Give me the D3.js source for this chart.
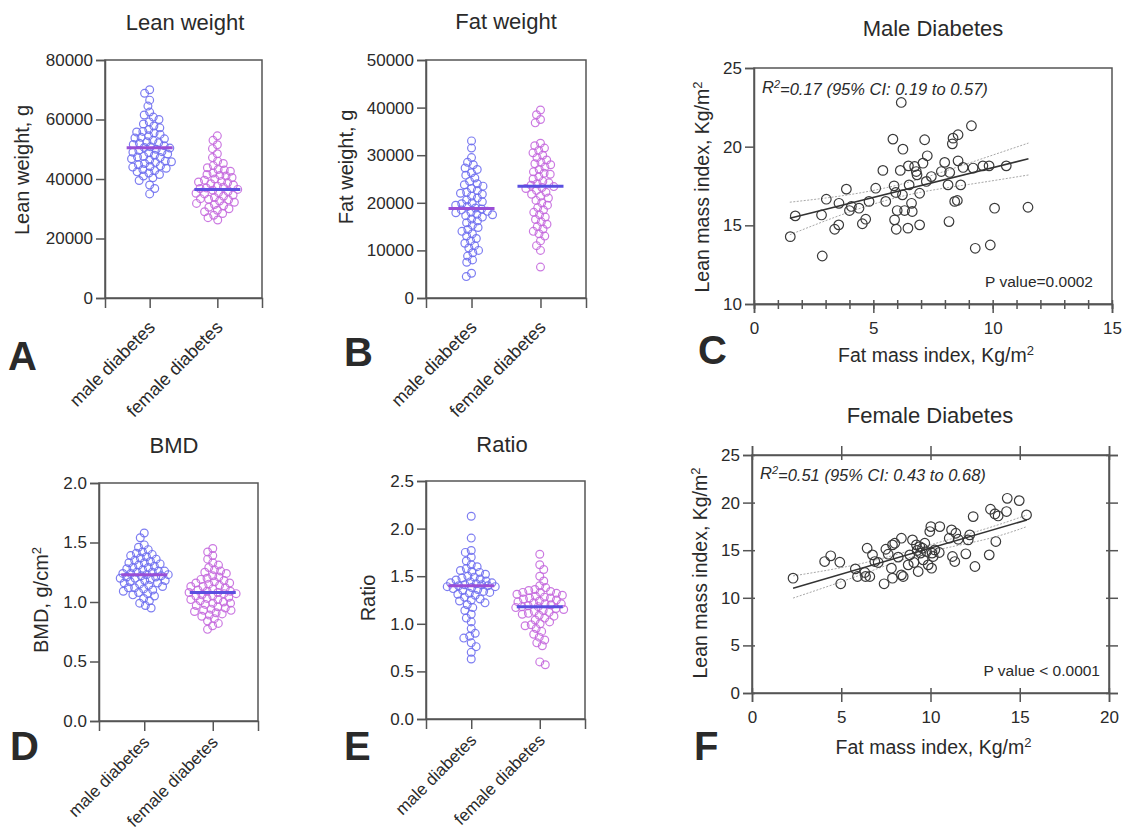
<!DOCTYPE html>
<html><head><meta charset="utf-8">
<script src="https://cdn.jsdelivr.net/npm/d3@7"></script>
<style>
body{margin:0;background:#fff}
text{font-family:"Liberation Sans", Arial, Helvetica, sans-serif;fill:#2a2a2a}
</style>
</head><body>
<svg id="chart" width="1124" height="835"></svg>
<script>
// ---------------- DATA ----------------
const categories = ["male diabetes", "female diabetes"];

const leanMale = [70000, 68800, 66500, 64500, 62500, 61500, 60800, 60000, 59200, 58500, 57800, 57200, 56600, 56000, 55500, 55000, 54500, 54000, 53500, 53000, 52500, 52000, 51600, 51200, 50800, 50400, 50000, 49600, 49200, 48800, 48400, 48000, 47600, 47200, 46800, 46400, 46000, 45600, 45200, 44800, 44400, 44000, 43600, 43200, 42800, 42400, 42000, 41500, 41000, 40400, 39500, 38000, 36800, 35000, 53800, 52200, 50600, 49000, 47400, 45800, 55800, 44200];
const leanFemale = [54500, 53000, 51500, 50200, 48500, 47200, 46000, 45200, 44500, 43800, 43200, 42600, 42000, 41500, 41000, 40500, 40000, 39600, 39200, 38800, 38400, 38000, 37600, 37200, 36800, 36500, 36200, 35800, 35400, 35000, 34600, 34200, 33800, 33400, 33000, 32600, 32200, 31800, 31400, 31000, 30500, 30000, 29500, 29000, 28400, 27800, 27000, 26200, 39000, 37000, 35200, 33200, 41200, 43000];
const leanMedians = [50500, 36500];
const leanTicks = [0, 20000, 40000, 60000, 80000];

const fatMale = [33000, 31500, 29500, 28500, 28000, 27300, 27000, 26300, 25800, 25200, 24500, 24000, 23500, 23000, 22600, 22200, 21800, 21400, 21000, 20600, 20200, 19800, 19500, 19200, 18900, 18700, 18500, 18200, 17900, 17600, 17300, 17000, 16600, 16200, 15800, 15300, 14800, 14400, 14000, 13500, 13000, 12500, 12000, 11500, 11000, 10500, 10000, 9500, 8800, 8000, 7500, 5200, 4500, 22000, 20000, 18000, 23800, 17500];
const fatFemale = [39500, 38500, 37500, 36800, 32500, 32000, 31500, 31000, 30500, 30000, 29500, 29000, 28500, 28000, 27500, 27000, 26500, 26000, 25500, 25000, 24500, 24000, 23700, 23400, 23200, 23000, 22600, 22200, 21800, 21400, 21000, 20500, 20000, 19500, 19000, 18500, 18000, 17500, 17000, 16500, 16000, 15500, 15000, 14500, 14000, 13500, 13000, 12000, 11000, 10000, 6500, 24200, 26200, 28200];
const fatMedians = [18800, 23500];
const fatTicks = [0, 10000, 20000, 30000, 40000, 50000];

const bmdMale = [1.58, 1.54, 1.48, 1.46, 1.44, 1.42, 1.41, 1.40, 1.39, 1.38, 1.37, 1.36, 1.35, 1.34, 1.33, 1.32, 1.31, 1.30, 1.29, 1.28, 1.27, 1.26, 1.25, 1.25, 1.24, 1.24, 1.23, 1.23, 1.22, 1.22, 1.21, 1.21, 1.20, 1.20, 1.19, 1.18, 1.18, 1.17, 1.16, 1.15, 1.14, 1.13, 1.12, 1.11, 1.10, 1.09, 1.08, 1.07, 1.06, 1.05, 1.03, 1.01, 0.99, 0.97, 0.95, 1.33, 1.29, 1.26, 1.16, 1.12];
const bmdFemale = [1.45, 1.42, 1.39, 1.36, 1.33, 1.31, 1.29, 1.27, 1.25, 1.24, 1.22, 1.20, 1.19, 1.18, 1.17, 1.16, 1.15, 1.14, 1.13, 1.12, 1.11, 1.10, 1.09, 1.09, 1.08, 1.08, 1.07, 1.07, 1.06, 1.05, 1.04, 1.03, 1.02, 1.01, 1.00, 0.99, 0.98, 0.97, 0.96, 0.95, 0.94, 0.93, 0.92, 0.91, 0.90, 0.89, 0.88, 0.86, 0.84, 0.82, 0.80, 0.77, 1.21, 1.13, 1.05, 0.99, 0.93, 1.26, 1.16, 1.02];
const bmdMedians = [1.23, 1.08];
const bmdTicks = [0, 0.5, 1.0, 1.5, 2.0];

const ratioMale = [2.13, 1.90, 1.77, 1.75, 1.70, 1.66, 1.62, 1.60, 1.58, 1.56, 1.54, 1.52, 1.50, 1.48, 1.47, 1.46, 1.45, 1.44, 1.43, 1.42, 1.41, 1.41, 1.40, 1.40, 1.39, 1.39, 1.38, 1.37, 1.36, 1.35, 1.34, 1.33, 1.32, 1.30, 1.28, 1.26, 1.24, 1.22, 1.20, 1.17, 1.14, 1.10, 1.06, 1.02, 0.95, 0.90, 0.87, 0.85, 0.80, 0.76, 0.70, 0.63, 1.55, 1.49, 1.43, 1.31, 1.25];
const ratioFemale = [1.73, 1.62, 1.57, 1.50, 1.45, 1.40, 1.38, 1.36, 1.35, 1.34, 1.33, 1.32, 1.31, 1.30, 1.29, 1.28, 1.27, 1.26, 1.25, 1.24, 1.23, 1.22, 1.21, 1.20, 1.19, 1.18, 1.18, 1.17, 1.16, 1.15, 1.14, 1.13, 1.12, 1.11, 1.10, 1.08, 1.06, 1.04, 1.02, 1.00, 0.98, 0.95, 0.92, 0.89, 0.86, 0.83, 0.80, 0.77, 0.60, 0.57, 1.33, 1.27, 1.21, 1.09, 0.99];
const ratioMedians = [1.40, 1.18];
const ratioTicks = [0, 0.5, 1.0, 1.5, 2.0, 2.5];

// Male diabetes scatter: fat mass index (x) vs lean mass index (y)
const maleFMI = [1.52, 1.73, 2.86, 2.83, 3.03, 3.56, 3.38, 3.55, 3.87, 4.08, 4.0, 4.4, 4.54, 4.68, 4.82, 5.1, 5.4, 5.52, 5.82, 5.87, 5.94, 5.89, 5.96, 6.0, 6.17, 6.24, 6.13, 6.22, 6.31, 6.47, 6.5, 6.45, 6.6, 6.63, 6.73, 6.8, 6.83, 6.94, 6.94, 7.08, 7.15, 7.26, 7.22, 7.43, 7.85, 7.99, 8.13, 8.2, 8.17, 8.31, 8.34, 8.55, 8.55, 8.41, 8.52, 8.66, 8.76, 9.11, 9.18, 9.27, 9.59, 9.85, 9.9, 10.08, 10.57, 11.48];
const maleLMI = [14.28, 15.6, 13.05, 15.66, 16.66, 16.4, 14.75, 15.03, 17.3, 16.2, 15.94, 16.09, 15.1, 15.39, 16.52, 17.36, 18.49, 16.52, 20.48, 17.51, 17.09, 15.35, 14.75, 15.94, 22.81, 19.84, 18.49, 16.94, 15.94, 18.78, 17.57, 14.82, 16.4, 15.88, 18.74, 18.42, 18.21, 17.04, 15.03, 18.95, 20.44, 19.42, 17.79, 18.1, 18.42, 19.0, 17.57, 18.36, 15.24, 20.18, 20.54, 20.76, 19.1, 16.52, 16.58, 17.57, 18.68, 21.33, 18.64, 13.54, 18.78, 18.78, 13.75, 16.09, 18.78, 16.15];
const maleFitX = [1.5, 11.5];
const maleFitY = [15.45, 19.23];
const maleBandX = [1.5, 4.0, 6.5, 9.0, 11.5];
const maleBandUpper = [16.47, 16.95, 17.75, 18.95, 20.23];
const maleBandLower = [14.4, 15.85, 16.95, 17.6, 18.2];

// Female diabetes scatter
const femaleFMI = [2.3, 4.07, 4.41, 4.92, 4.97, 5.79, 5.91, 6.32, 6.45, 6.36, 6.6, 6.75, 6.88, 7.07, 7.4, 7.5, 7.63, 7.81, 7.87, 8.0, 7.87, 8.19, 8.37, 8.37, 8.47, 8.75, 8.84, 8.99, 9.07, 9.21, 9.25, 9.31, 9.4, 9.44, 9.55, 9.59, 9.68, 9.78, 9.87, 9.96, 10.02, 10.06, 10.09, 10.15, 10.24, 10.52, 10.49, 11.18, 11.23, 11.36, 11.42, 11.55, 11.98, 12.11, 12.2, 12.39, 12.49, 13.29, 13.36, 13.61, 13.66, 13.79, 14.26, 14.3, 14.97, 15.38, 11.05];
const femaleLMI = [12.06, 13.81, 14.41, 13.74, 11.47, 13.04, 12.24, 12.66, 15.21, 12.24, 12.24, 14.51, 13.81, 13.71, 11.47, 15.1, 14.58, 13.11, 15.56, 15.73, 12.06, 14.27, 16.26, 12.41, 12.24, 13.46, 14.51, 16.08, 13.71, 15.56, 14.97, 12.76, 15.38, 14.69, 15.21, 13.99, 15.73, 14.86, 13.46, 16.96, 17.48, 13.11, 14.69, 14.34, 15.03, 17.48, 14.76, 17.13, 14.34, 13.81, 16.78, 16.15, 14.62, 16.08, 16.61, 18.53, 13.29, 14.51, 19.3, 18.81, 15.91, 18.6, 19.06, 20.45, 20.21, 18.71, 16.26];
const femaleFitX = [2.3, 15.4];
const femaleFitY = [11.01, 18.18];
const femaleBandX = [2.3, 6.0, 9.5, 13.0, 15.4];
const femaleBandUpper = [12.3, 13.55, 15.3, 17.2, 18.7];
const femaleBandLower = [9.97, 12.35, 14.6, 16.1, 17.48];

// ---------------- DRAWING ----------------
const svg = d3.select("#chart");
const AXIS = "#555";
const maleColor = "#6f6ff0", femaleColor = "#c56ade";
const maleMedColor = "#9a4ed6", femaleMedColor = "#5a4fe0";

// beeswarm layout, limited to a maximum half-width (points may overlap at the limit)
function swarm(values, y, diam, maxHalf) {
  const pts = values.map(v => ({v, y: y(v)})).sort((a, b) => a.y - b.y);
  const placed = [];
  let flip = 1;
  for (const p of pts) {
    const cands = [0];
    for (const q of placed) {
      const dy = Math.abs(q.y - p.y);
      if (dy < diam) { const dx = Math.sqrt(diam * diam - dy * dy); cands.push(q.x + dx, q.x - dx); }
    }
    cands.sort((a, b) => (Math.abs(a) - Math.abs(b)) || (flip * (b - a)));
    let chosen = null;
    for (const c of cands) {
      if (Math.abs(c) > maxHalf) break;
      if (placed.every(q => (q.x - c) ** 2 + (q.y - p.y) ** 2 >= diam * diam - 0.01)) { chosen = c; break; }
    }
    if (chosen === null) {
      let best = -1;
      for (let c = -maxHalf; c <= maxHalf; c += 0.5) {
        let m = Infinity;
        for (const q of placed) m = Math.min(m, (q.x - c) ** 2 + (q.y - p.y) ** 2);
        if (m > best) { best = m; chosen = c; }
      }
    }
    p.x = chosen;
    flip = -flip;
    placed.push(p);
  }
  return placed;
}

function columnPanel(o) {
  const g = svg.append("g");
  const x = d3.scalePoint().domain(categories).range([o.x0, o.x1]).padding(0.66);
  const y = d3.scaleLinear().domain([0, o.ticks[o.ticks.length - 1]]).range([o.y1, o.y0]);
  g.append("rect").attr("x", o.x0).attr("y", o.y0).attr("width", o.x1 - o.x0).attr("height", o.y1 - o.y0)
    .attr("fill", "none").attr("stroke", AXIS).attr("stroke-width", 1.5);
  const ya = g.append("g").attr("transform", `translate(${o.x0},0)`)
    .call(d3.axisLeft(y).tickValues(o.ticks).tickSize(9).tickPadding(3).tickFormat(o.fmt));
  ya.select(".domain").attr("stroke", AXIS).attr("stroke-width", 1.5);
  ya.selectAll(".tick line").attr("stroke", AXIS).attr("stroke-width", 1.5);
  ya.selectAll(".tick text").style("font-size", "17px").attr("fill", "#2a2a2a");
  const xa = g.append("g").attr("transform", `translate(0,${o.y1})`)
    .call(d3.axisBottom(x).tickSize(10).tickFormat(""));
  xa.select(".domain").attr("stroke", AXIS).attr("stroke-width", 1.5);
  xa.selectAll(".tick line").attr("stroke", AXIS).attr("stroke-width", 1.5);
  categories.forEach(c => {
    g.append("text").attr("transform", `translate(${x(c) + 2},${o.y1 + o.catOff}) rotate(-45)`)
      .attr("text-anchor", "end").attr("dy", "0.35em").style("font-size", o.catSize).text(c);
  });
  const groups = [o.male, o.female];
  const colors = [maleColor, femaleColor];
  const medColors = [maleMedColor, femaleMedColor];
  groups.forEach((vals, i) => {
    const pts = swarm(vals, y, 6.2, 24);
    g.append("g").selectAll("circle").data(pts).join("circle")
      .attr("cx", d => x(categories[i]) + d.x).attr("cy", d => d.y).attr("r", 3.9)
      .attr("fill", "none").attr("stroke", colors[i]).attr("stroke-width", 1.2).attr("stroke-opacity", 0.9);
  });
  groups.forEach((vals, i) => {
    g.append("line").attr("x1", x(categories[i]) - 23).attr("x2", x(categories[i]) + 23)
      .attr("y1", y(o.medians[i])).attr("y2", y(o.medians[i]))
      .attr("stroke", medColors[i]).attr("stroke-width", 3);
  });
  g.append("text").attr("x", o.tx).attr("y", o.ty).attr("text-anchor", "middle").style("font-size", "22px").text(o.title);
  const yl = g.append("text").attr("transform", `translate(${o.lx},${o.ly}) rotate(-90)`)
    .attr("text-anchor", "middle").style("font-size", "20px");
  yl.append("tspan").text(o.ylabel);
  if (o.sup) yl.append("tspan").attr("dy", "-0.55em").style("font-size", "13px").text(o.sup);
  g.append("text").attr("x", o.px).attr("y", o.py).style("font-size", "40px").style("font-weight", "bold")
    .attr("fill", "#000").text(o.letter);
}

columnPanel({x0: 105, x1: 262, y0: 60, y1: 298, ticks: leanTicks, fmt: d3.format("d"),
  male: leanMale, female: leanFemale, medians: leanMedians, title: "Lean weight", tx: 185, ty: 30,
  ylabel: "Lean weight, g", lx: 29, ly: 170, letter: "A", px: 8, py: 370, catOff: 26, catSize: "18px"});
columnPanel({x0: 426, x1: 586, y0: 60, y1: 298, ticks: fatTicks, fmt: d3.format("d"),
  male: fatMale, female: fatFemale, medians: fatMedians, title: "Fat weight", tx: 506, ty: 29,
  ylabel: "Fat weight, g", lx: 353, ly: 167, letter: "B", px: 344, py: 366, catOff: 26, catSize: "18px"});
columnPanel({x0: 99, x1: 258, y0: 483, y1: 721, ticks: bmdTicks, fmt: d3.format(".1f"),
  male: bmdMale, female: bmdFemale, medians: bmdMedians, title: "BMD", tx: 174, ty: 453,
  ylabel: "BMD, g/cm", sup: "2", lx: 48, ly: 600, letter: "D", px: 10, py: 760, catOff: 18, catSize: "17px"});
columnPanel({x0: 426, x1: 585, y0: 481, y1: 719, ticks: ratioTicks, fmt: d3.format(".1f"),
  male: ratioMale, female: ratioFemale, medians: ratioMedians, title: "Ratio", tx: 502, ty: 452,
  ylabel: "Ratio", lx: 375, ly: 598, letter: "E", px: 344, py: 760, catOff: 18, catSize: "17px"});

function scatterPanel(o) {
  const g = svg.append("g");
  const x = d3.scaleLinear().domain(o.xd).range([o.x0, o.x1]);
  const y = d3.scaleLinear().domain(o.yd).range([o.y1, o.y0]);
  const style = a => {
    a.select(".domain").attr("stroke", AXIS).attr("stroke-width", 1.5);
    a.selectAll(".tick line").attr("stroke", AXIS).attr("stroke-width", 1.5);
    a.selectAll(".tick text").style("font-size", "17px").attr("fill", "#2a2a2a");
  };
  g.append("rect").attr("x", o.x0).attr("y", o.y0).attr("width", o.x1 - o.x0).attr("height", o.y1 - o.y0)
    .attr("fill", "none").attr("stroke", AXIS).attr("stroke-width", 1.5);
  if (o.minor) {
    const xm = g.append("g").attr("transform", `translate(0,${o.y1})`)
      .call(d3.axisBottom(x).tickValues(d3.range(o.xd[0], o.xd[1] + 1, 1)).tickSize(5).tickFormat(""));
    style(xm);
    xm.selectAll(".tick line").attr("y1", -4);
  }
  const xa = g.append("g").attr("transform", `translate(0,${o.y1})`)
    .call(d3.axisBottom(x).tickValues(o.xt).tickSize(9).tickPadding(9));
  style(xa);
  const ya = g.append("g").attr("transform", `translate(${o.x0},0)`)
    .call(d3.axisLeft(y).tickValues(o.yt).tickSize(9).tickPadding(3));
  style(ya);
  if (o.mirror) {
    const xt = g.append("g").attr("transform", `translate(0,${o.y0})`)
      .call(d3.axisTop(x).tickValues(o.xt).tickSize(9).tickFormat(""));
    style(xt); xt.selectAll(".tick line").attr("y1", 5);
    const yr = g.append("g").attr("transform", `translate(${o.x1},0)`)
      .call(d3.axisRight(y).tickValues(o.yt).tickSize(9).tickFormat(""));
    style(yr); yr.selectAll(".tick line").attr("x1", -3);
    xa.selectAll(".tick line").attr("y1", -5);
    ya.selectAll(".tick line").attr("x1", 3);
  }
  const band = d3.line().x(d => x(d[0])).y(d => y(d[1])).curve(d3.curveNatural);
  [o.bu, o.bl].forEach(arr => {
    g.append("path").attr("d", band(o.bx.map((v, i) => [v, arr[i]])))
      .attr("fill", "none").attr("stroke", "#a8a8a8").attr("stroke-width", 1).attr("stroke-dasharray", "2,1.5");
  });
  g.append("g").selectAll("circle").data(o.xs.map((v, i) => [v, o.ys[i]])).join("circle")
    .attr("cx", d => x(d[0])).attr("cy", d => y(d[1])).attr("r", 4.8)
    .attr("fill", "none").attr("stroke", "#3a3a3a").attr("stroke-width", 1.2);
  g.append("path").attr("d", d3.line().x(d => x(d[0])).y(d => y(d[1]))(o.fx.map((v, i) => [v, o.fy[i]])))
    .attr("fill", "none").attr("stroke", "#333").attr("stroke-width", 1.5);
  g.append("text").attr("x", o.tx).attr("y", o.ty).attr("text-anchor", "middle").style("font-size", "22px").text(o.title);
  const r2 = g.append("text").attr("x", o.x0 + 8).attr("y", o.r2y).style("font-size", "16.5px").style("font-style", "italic").attr("fill", "#444");
  r2.append("tspan").text("R");
  r2.append("tspan").attr("dy", "-0.45em").style("font-size", "11px").text("2");
  r2.append("tspan").attr("dy", "0.45em").text(o.r2);
  g.append("text").attr("x", o.px).attr("y", o.py).attr("text-anchor", "end").style("font-size", "15.5px").attr("fill", "#444").text(o.pv);
  const xl = g.append("text").attr("x", (o.x0 + o.x1) / 2 + 3).attr("y", o.xly).attr("text-anchor", "middle").style("font-size", "19.5px");
  xl.append("tspan").text("Fat mass index, Kg/m");
  xl.append("tspan").attr("dy", "-0.55em").style("font-size", "13px").text("2");
  const yl = g.append("text").attr("transform", `translate(${o.ylx},${o.yly}) rotate(-90)`).attr("text-anchor", "middle").style("font-size", "19.5px");
  yl.append("tspan").text("Lean mass index, Kg/m");
  yl.append("tspan").attr("dy", "-0.55em").style("font-size", "13px").text("2");
  g.append("text").attr("x", o.lx).attr("y", o.ly).style("font-size", "40px").style("font-weight", "bold").attr("fill", "#000").text(o.letter);
}

scatterPanel({x0: 754, x1: 1112, y0: 68, y1: 304, xd: [0, 15], yd: [10, 25], xt: [0, 5, 10, 15], yt: [10, 15, 20, 25],
  minor: true, mirror: false, xs: maleFMI, ys: maleLMI, fx: maleFitX, fy: maleFitY,
  bx: maleBandX, bu: maleBandUpper, bl: maleBandLower,
  title: "Male Diabetes", tx: 933, ty: 36, r2: "=0.17 (95% CI: 0.19 to 0.57)", r2y: 93,
  pv: "P value=0.0002", px: 1093, py: 287, xly: 362, ylx: 709, yly: 187, letter: "C", lx: 698, ly: 364});
scatterPanel({x0: 752, x1: 1109, y0: 455, y1: 693, xd: [0, 20], yd: [0, 25], xt: [0, 5, 10, 15, 20], yt: [0, 5, 10, 15, 20, 25],
  minor: false, mirror: true, xs: femaleFMI, ys: femaleLMI, fx: femaleFitX, fy: femaleFitY,
  bx: femaleBandX, bu: femaleBandUpper, bl: femaleBandLower,
  title: "Female Diabetes", tx: 930, ty: 423, r2: "=0.51 (95% CI: 0.43 to 0.68)", r2y: 479,
  pv: "P value < 0.0001", px: 1100, py: 676, xly: 754, ylx: 707, yly: 573, letter: "F", lx: 694, ly: 760});
</script>
</body></html>
